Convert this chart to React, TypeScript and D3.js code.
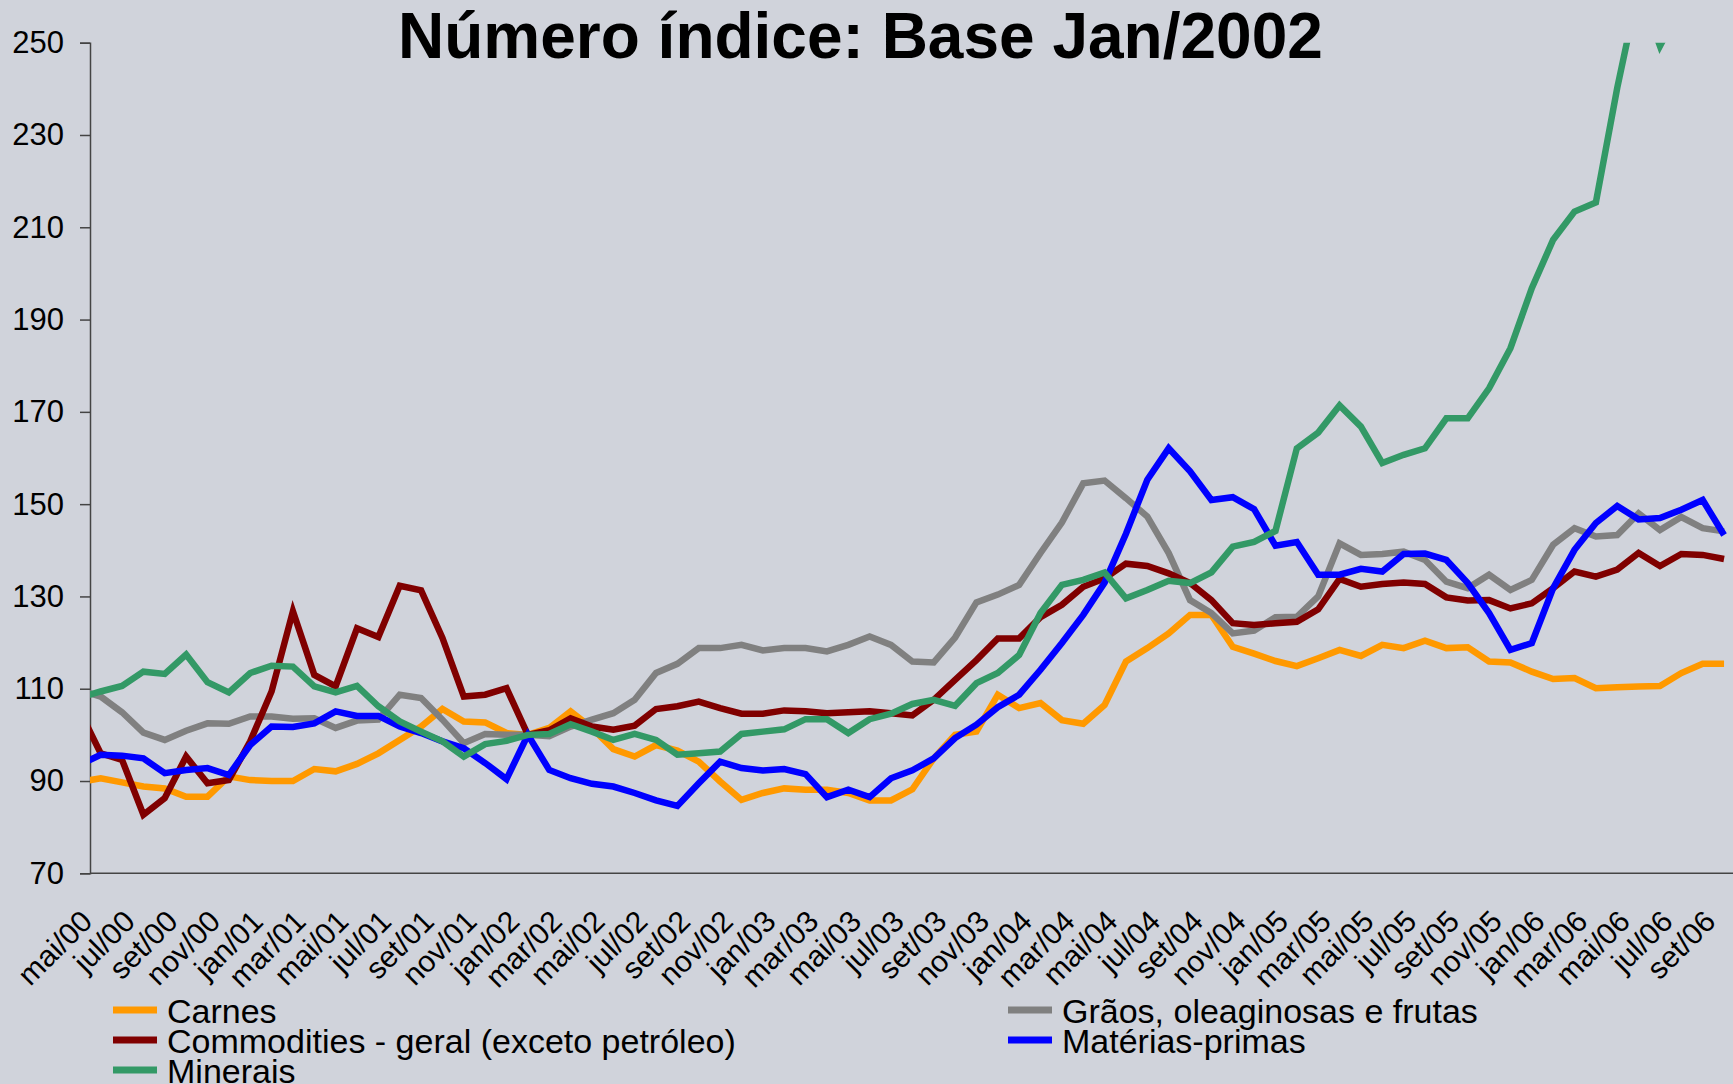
import * as d3 from "d3";
import { useEffect, useRef } from "react";

// monthly categories, abr/00 .. set/06 (abr/00 sits just left of the axis and is clipped)
const months = [
  "abr/00", "mai/00", "jun/00", "jul/00", "ago/00", "set/00", "out/00", "nov/00", "dez/00",
  "jan/01", "fev/01", "mar/01", "abr/01", "mai/01", "jun/01", "jul/01", "ago/01", "set/01", "out/01", "nov/01", "dez/01",
  "jan/02", "fev/02", "mar/02", "abr/02", "mai/02", "jun/02", "jul/02", "ago/02", "set/02", "out/02", "nov/02", "dez/02",
  "jan/03", "fev/03", "mar/03", "abr/03", "mai/03", "jun/03", "jul/03", "ago/03", "set/03", "out/03", "nov/03", "dez/03",
  "jan/04", "fev/04", "mar/04", "abr/04", "mai/04", "jun/04", "jul/04", "ago/04", "set/04", "out/04", "nov/04", "dez/04",
  "jan/05", "fev/05", "mar/05", "abr/05", "mai/05", "jun/05", "jul/05", "ago/05", "set/05", "out/05", "nov/05", "dez/05",
  "jan/06", "fev/06", "mar/06", "abr/06", "mai/06", "jun/06", "jul/06", "ago/06", "set/06",
];

const tickLabels = [
  "mai/00", "jul/00", "set/00", "nov/00", "jan/01", "mar/01", "mai/01", "jul/01", "set/01", "nov/01",
  "jan/02", "mar/02", "mai/02", "jul/02", "set/02", "nov/02", "jan/03", "mar/03", "mai/03", "jul/03",
  "set/03", "nov/03", "jan/04", "mar/04", "mai/04", "jul/04", "set/04", "nov/04", "jan/05", "mar/05",
  "mai/05", "jul/05", "set/05", "nov/05", "jan/06", "mar/06", "mai/06", "jul/06", "set/06",
];

const yTicks = [70, 90, 110, 130, 150, 170, 190, 210, 230, 250];

const carnes = [
  89.8, 90.6, 89.7, 88.8, 88.4, 86.6, 86.6, 91.0, 90.2,
  90.0, 90.0, 92.6, 92.1, 93.7, 96.0, 98.9, 101.8, 105.6, 102.9, 102.7, 100.4,
  100, 101.5, 105.1, 101.5, 96.9, 95.3, 97.8, 96.6, 94.2, 89.9, 85.9, 87.4,
  88.4, 88.1, 88.1, 87.4, 85.8, 85.8, 88.2, 94.9, 100.0, 100.7, 108.7, 105.8,
  106.9, 103.2, 102.4, 106.5, 115.9, 118.8, 122.0, 126.0, 126.0, 119.1, 117.6, 116.0,
  114.9, 116.6, 118.4, 117.1, 119.5, 118.8, 120.4, 118.8, 119.0, 115.9, 115.7, 113.7,
  112.1, 112.3, 110.1, 110.3, 110.5, 110.6, 113.4, 115.4, 115.4,
];

const graos = [
  109.7, 108.3, 104.9, 100.5, 98.9, 100.9, 102.5, 102.4, 104.0,
  104.0, 103.5, 103.6, 101.5, 103.1, 103.3, 108.7, 108.0, 103.3, 98.2, 100.2, 100.0,
  100, 99.7, 101.8, 103.3, 104.7, 107.6, 113.4, 115.4, 118.8, 118.8, 119.5, 118.3,
  118.8, 118.8, 118.1, 119.5, 121.3, 119.5, 115.9, 115.7, 121.1, 128.7, 130.4, 132.5,
  139.4, 146.0, 154.5, 155.1, 151.3, 147.3, 139.4, 129.2, 126.4, 122.0, 122.6, 125.5,
  125.6, 130.0, 141.5, 139.0, 139.2, 139.7, 137.9, 133.2, 131.8, 134.7, 131.4, 133.6,
  141.2, 144.8, 143.0, 143.3, 148.0, 144.4, 147.2, 144.8, 144.1,
];

const commodities = [
  105.4, 96.0, 94.6, 82.7, 86.3, 95.3, 89.5, 90.2, 98.6,
  109.4, 126.8, 113.0, 110.5, 123.1, 121.2, 132.3, 131.3, 121.0, 108.3, 108.7, 110.1,
  100, 101.0, 103.6, 101.8, 101.1, 102.0, 105.6, 106.2, 107.2, 105.8, 104.6, 104.6,
  105.3, 105.1, 104.7, 104.9, 105.1, 104.7, 104.2, 107.6, 111.9, 116.2, 120.9, 120.9,
  125.5, 128.2, 132.1, 133.9, 137.1, 136.6, 135.0, 132.9, 129.2, 124.2, 123.8, 124.2,
  124.5, 127.2, 133.8, 132.1, 132.7, 133.0, 132.7, 129.8, 129.1, 129.2, 127.4, 128.5,
  131.8, 135.4, 134.3, 135.8, 139.4, 136.6, 139.2, 139.0, 138.1,
];

const materiasPrimas = [
  93.5, 95.7, 95.5, 94.9, 91.7, 92.4, 92.8, 91.3, 97.8,
  101.8, 101.7, 102.5, 105.1, 104.1, 104.1, 101.8, 100.4, 98.6, 97.1, 93.9, 90.4,
  100, 92.4, 90.6, 89.4, 88.8, 87.4, 85.8, 84.6, 89.5, 94.2, 92.8, 92.3,
  92.6, 91.5, 86.5, 88.1, 86.5, 90.6, 92.3, 94.9, 99.3, 102.2, 106.0, 108.7,
  114.1, 119.9, 126.0, 133.0, 143.6, 155.3, 162.1, 157.1, 150.9, 151.5, 148.9, 141.0,
  141.8, 134.7, 134.7, 136.0, 135.4, 139.2, 139.3, 137.9, 132.9, 126.4, 118.4, 119.9,
  131.8, 140.1, 145.9, 149.6, 146.7, 147.0, 148.8, 150.9, 143.3,
];

const minerais = [
  108.0, 109.4, 110.6, 113.7, 113.2, 117.4, 111.4, 109.2, 113.4,
  115.0, 114.8, 110.5, 109.2, 110.6, 106.2, 102.9, 100.7, 98.6, 95.3, 98.0, 98.7,
  100, 100.2, 102.3, 100.7, 98.9, 100.2, 98.9, 95.7, 96.0, 96.4, 100.2, 100.7,
  101.2, 103.4, 103.4, 100.4, 103.4, 104.6, 106.7, 107.6, 106.3, 111.2, 113.4, 117.3,
  126.4, 132.5, 133.6, 135.2, 129.6, 131.4, 133.4, 132.9, 135.2, 140.8, 141.8, 144.2,
  162.1, 165.5, 171.4, 166.8, 158.9, 160.7, 162.1, 168.6, 168.6, 175.1, 183.8, 196.8,
  207.3, 213.4, 215.4, 240.2, 262.0, 249.3, 258.0, 263.0, 268.0,
];

const series = [
  { name: "Carnes", color: "#ff9900", values: carnes },
  { name: "Grãos, oleaginosas e frutas", color: "#808080", values: graos },
  { name: "Commodities - geral (exceto petróleo)", color: "#800000", values: commodities },
  { name: "Matérias-primas", color: "#0000ff", values: materiasPrimas },
  { name: "Minerais", color: "#339966", values: minerais },
];

const WIDTH = 1733;
const HEIGHT = 1084;
const FONT = "'Liberation Sans', Arial, sans-serif";

function drawChart(svgElement) {
  const svg = d3.select(svgElement);
  svg.selectAll("*").remove();

  const left = 90;
  const step = 21.36;
  const top = 42.7;
  const bottom = 873.3;

  const x = d3
    .scaleBand()
    .domain(months)
    .range([left - step, left - step + months.length * step])
    .paddingInner(0)
    .paddingOuter(0);
  const y = d3.scaleLinear().domain([70, 250]).range([bottom, top]);
  const mid = (m) => x(m) + x.bandwidth() / 2;

  svg.append("rect").attr("width", WIDTH).attr("height", HEIGHT).attr("fill", "#d0d3db");

  svg
    .append("text")
    .attr("x", 398)
    .attr("y", 58)
    .attr("font-family", FONT)
    .attr("font-weight", "bold")
    .attr("font-size", 64)
    .attr("fill", "#000")
    .text("Número índice: Base Jan/2002");

  svg
    .append("defs")
    .append("clipPath")
    .attr("id", "plot-clip")
    .append("rect")
    .attr("x", left)
    .attr("y", top)
    .attr("width", WIDTH - left)
    .attr("height", bottom - top);

  // y axis
  const yAxis = svg.append("g").attr("transform", `translate(${left},0)`).call(
    d3.axisLeft(y).tickValues(yTicks).tickSize(10).tickPadding(16).tickFormat(d3.format("d"))
  );
  yAxis.select(".domain").attr("stroke", "#444").attr("stroke-width", 1.5);
  yAxis.selectAll(".tick line").attr("stroke", "#444").attr("stroke-width", 1.5);
  yAxis
    .selectAll("text")
    .attr("font-family", FONT)
    .attr("font-size", 31)
    .attr("fill", "#000");

  // x axis line
  svg
    .append("line")
    .attr("x1", left)
    .attr("x2", WIDTH)
    .attr("y1", bottom)
    .attr("y2", bottom)
    .attr("stroke", "#444")
    .attr("stroke-width", 1.5);

  svg
    .append("g")
    .selectAll("text")
    .data(tickLabels)
    .join("text")
    .attr("transform", (d) => `translate(${x(d) + 4},${bottom + 50}) rotate(-45)`)
    .attr("text-anchor", "end")
    .attr("font-family", FONT)
    .attr("font-size", 30)
    .attr("fill", "#000")
    .text((d) => d);

  const line = d3
    .line()
    .x((d, i) => mid(months[i]))
    .y((d) => y(d));

  svg
    .append("g")
    .attr("clip-path", "url(#plot-clip)")
    .selectAll("path")
    .data(series)
    .join("path")
    .attr("d", (s) => line(s.values))
    .attr("fill", "none")
    .attr("stroke", (s) => s.color)
    .attr("stroke-width", 6.5)
    .attr("stroke-linejoin", "miter");

  // legend, two columns, row-major like Excel
  const legend = svg.append("g");
  const colX = [113, 1008];
  series.forEach((s, i) => {
    const col = i % 2;
    const row = Math.floor(i / 2);
    const cy = 1010 + row * 30;
    legend
      .append("line")
      .attr("x1", colX[col])
      .attr("x2", colX[col] + 44)
      .attr("y1", cy)
      .attr("y2", cy)
      .attr("stroke", s.color)
      .attr("stroke-width", 7);
    legend
      .append("text")
      .attr("x", colX[col] + 54)
      .attr("y", cy + 13)
      .attr("font-family", FONT)
      .attr("font-size", 34)
      .attr("fill", "#000")
      .text(s.name);
  });
}

export default function App() {
  const svgRef = useRef(null);

  useEffect(() => {
    document.body.style.margin = "0";
    drawChart(svgRef.current);
  }, []);

  return (
    <svg
      ref={svgRef}
      width={WIDTH}
      height={HEIGHT}
      style={{ display: "block" }}
      role="img"
      aria-label="Número índice: Base Jan/2002"
    />
  );
}
